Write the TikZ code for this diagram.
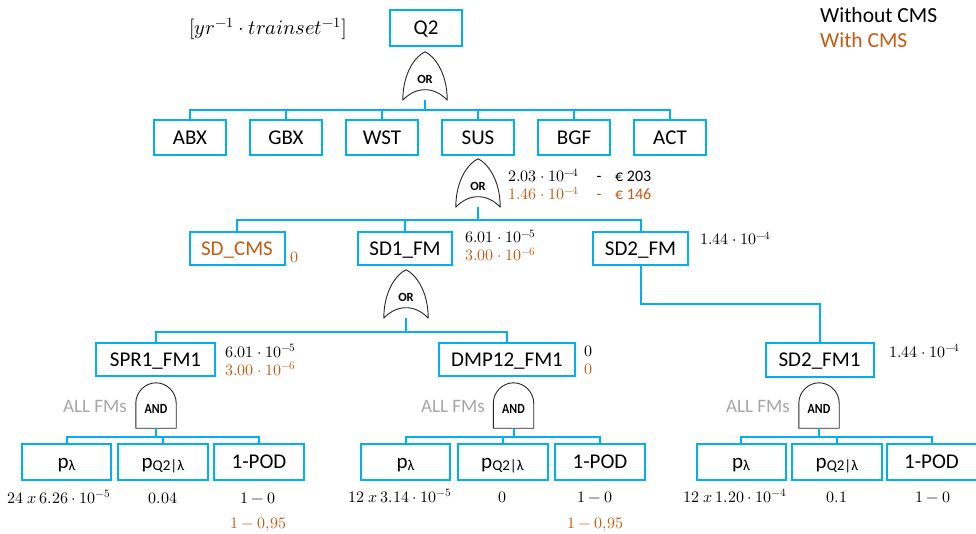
\documentclass[tikz,border=0pt]{standalone}
\usepackage{graphicx}
\usepackage{fontspec}
\usepackage{unicode-math}
\setmainfont{Carlito}
\setmathfont{Latin Modern Math}
\usetikzlibrary{calc}

\definecolor{boxblue}{HTML}{00B0F0}
\definecolor{cmsorange}{HTML}{C55A11}
\definecolor{fmgray}{HTML}{A6A6A6}

% subscript inside the basic-event boxes
\newcommand{\lowsub}[1]{\raisebox{-2pt}{\fontsize{15}{15}\selectfont #1}}

% OR gate outline drawn around a gate node (canvas offsets, up is positive)
\newcommand{\drawor}[1]{%
  \draw[gateline] (#1.south west)
    .. controls ($(#1.south west)+(0pt,28pt)$) and ($(#1.north)+(-9pt,-4pt)$) .. (#1.north)
    .. controls ($(#1.north)+(9pt,-4pt)$) and ($(#1.south east)+(0pt,28pt)$) .. (#1.south east)
    .. controls ($(#1.south east)+(-13pt,14pt)$) and ($(#1.south west)+(13pt,14pt)$) .. cycle;}

% AND gate outline: straight sides, round top
\newcommand{\drawand}[1]{%
  \draw[gateline] (#1.south west) -- ($(#1.south west)+(0pt,25pt)$)
    .. controls ($(#1.south west)+(0pt,36pt)$) and ($(#1.north)+(-11pt,0pt)$) .. (#1.north)
    .. controls ($(#1.north)+(11pt,0pt)$) and ($(#1.south east)+(0pt,36pt)$) .. ($(#1.south east)+(0pt,25pt)$)
    -- (#1.south east) -- cycle;}

\tikzset{
  event/.style={draw=boxblue, line width=2pt, fill=white, inner sep=0pt,
    minimum height=34pt, text height=13.5pt, text depth=0pt,
    font=\fontsize{21}{24}\selectfont},
  basic/.style={event, minimum width=89pt, minimum height=36pt},
  link/.style={draw=boxblue, line width=2pt},
  orgate/.style={minimum width=44pt, minimum height=48pt, inner sep=0pt,
    text height=15.5pt, text depth=0pt, font=\fontsize{12.5}{12.5}\selectfont\bfseries},
  andgate/.style={minimum width=40pt, minimum height=45pt, inner sep=0pt,
    text height=16pt, text depth=0pt, font=\fontsize{14}{14}\selectfont\bfseries},
  gateline/.style={draw=black!85, line width=0.9pt, line join=round},
  val/.style={font=\fontsize{16}{19}\selectfont, inner sep=0pt, anchor=base west},
  cval/.style={val, text=cmsorange},
  lowval/.style={font=\fontsize{16}{19}\selectfont, inner sep=0pt, anchor=base},
  clowval/.style={lowval, text=cmsorange},
  fmnote/.style={font=\fontsize{19}{21}\selectfont, text=fmgray, inner sep=0pt, anchor=base east},
  legend/.style={font=\fontsize{21.5}{24}\selectfont, inner sep=0pt, anchor=base west},
  cost/.style={font=\fontsize{16}{18}\selectfont, inner sep=0pt, anchor=base west},
}

\begin{document}
\begin{tikzpicture}[x=1pt, y=-1pt]
\useasboundingbox (0,0) rectangle (976,534);

% units and legend
\node[font=\fontsize{20.5}{23}\selectfont, inner sep=0pt, anchor=base] (units) at (268,35) {$[yr^{-1}\cdot trainset^{-1}]$};
\node[legend] (legA) at (820,23) {Without CMS};
\node[legend, text=cmsorange] (legB) at (820,48) {With CMS};

% top event
\node[event, minimum width=72pt, minimum height=36pt] (Q2) at (426,28) {Q2};
\node[orgate] (g0) at (425,76) {OR};
\drawor{g0}

% subsystems
\foreach \n/\x in {ABX/190, GBX/286, WST/382, SUS/478, BGF/574, ACT/670}
  \node[event, minimum width=72pt, minimum height=35pt] (\n) at (\x,137.5) {\n};
\coordinate (bus0) at (426,110);
\draw[link] (g0.south) -- (g0.south |- bus0);
\draw[link] (ABX.north) |- (ACT.north |- bus0) -- (ACT.north);
\foreach \n in {GBX, WST, SUS, BGF}
  \draw[link] (\n.north) -- (\n.north |- bus0);

% SUS branch
\node[orgate] (g1) at (478,183) {OR};
\drawor{g1}
\node[event, minimum width=95pt, minimum height=33pt, text=cmsorange] (SDCMS) at (237,249) {SD\_CMS};
\node[event, minimum width=94pt, minimum height=33pt] (SD1FM) at (405,249) {SD1\_FM};
\node[event, minimum width=95pt, minimum height=33pt] (SD2FM) at (640.5,249) {SD2\_FM};
\coordinate (bus1) at (478,220);
\draw[link] (g1.south) -- (g1.south |- bus1);
\draw[link] (SDCMS.north) |- (SD2FM.north |- bus1) -- (SD2FM.north);
\draw[link] (SD1FM.north) -- (SD1FM.north |- bus1);

\node[val] (qsus) at (508,182) {$2.03\cdot10^{-4}$};
\node[cost, anchor=base] (dsus) at (599,182) {-};
\node[cost] (esus) at (615,182) {€ 203};
\node[cval] (qsusc) at (508,200) {$1.46\cdot10^{-4}$};
\node[cost, anchor=base, text=cmsorange] (dsusc) at (599,200) {-};
\node[cost, text=cmsorange] (esusc) at (615,200) {€ 146};
\node[cval] (qcms) at (290,263) {$0$};
\node[val] (qsd1) at (465,243) {$6.01\cdot10^{-5}$};
\node[cval] (qsd1c) at (465,261) {$3.00\cdot10^{-6}$};
\node[val] (qsd2) at (700,245) {$1.44\cdot10^{-4}$};

% failure modes
\node[orgate] (g2) at (406,294) {OR};
\drawor{g2}
\node[event, minimum width=119pt, minimum height=33pt] (SPR) at (155.5,359.5) {SPR1\_FM1};
\node[event, minimum width=136pt, minimum height=33pt] (DMP) at (507,359.5) {DMP12\_FM1};
\node[event, minimum width=108pt, minimum height=34pt] (SD2FM1) at (819.5,360) {SD2\_FM1};
\coordinate (bus2) at (406,332);
\draw[link] (g2.south) -- (g2.south |- bus2);
\draw[link] (SPR.north) |- (DMP.north |- bus2) -- (DMP.north);
\coordinate (bend) at (641,304);
\draw[link] (SD2FM.south) -- (SD2FM.south |- bend) -| (SD2FM1.north);

\node[val] (qspr) at (225,357) {$6.01\cdot10^{-5}$};
\node[cval] (qsprc) at (225,375) {$3.00\cdot10^{-6}$};
\node[val] (qdmp) at (584,356) {$0$};
\node[cval] (qdmpc) at (584,374) {$0$};
\node[val] (qsd2fm) at (889,357) {$1.44\cdot10^{-4}$};

% AND gates with their basic events
\foreach \i/\gx/\la/\lb/\lc/\nx in {1/156/66.5/163/259/127, 2/513.5/405.5/502.5/600/485, 3/819/741/837/931.5/790} {
  \node[andgate] (a\i) at (\gx,405.5) {\scalebox{0.85}[1]{AND}};
  \drawand{a\i}
  \node[fmnote] (fm\i) at (\nx,412.7) {ALL FMs};
  \node[basic] (pl\i) at (\la,462) {p\lowsub{λ}};
  \node[basic, minimum width=90pt] (pq\i) at (\lb,462) {p\lowsub{Q2|λ}};
  \node[basic, minimum width=90pt] (pod\i) at (\lc,462) {1-POD};
  \coordinate (bus3\i) at (\gx,437);
  \draw[link] (a\i.south) -- (a\i.south |- bus3\i);
  \draw[link] (pl\i.north) |- (pod\i.north |- bus3\i) -- (pod\i.north);
  \draw[link] (pq\i.north) -- (pq\i.north |- bus3\i);
}

% basic event values
\node[lowval] (v1a) at (59,503) {$24\ x\ 6.26\cdot10^{-5}$};
\node[lowval] (v1b) at (163,503) {$0.04$};
\node[lowval] (v1c) at (258,503) {$1-0$};
\node[clowval] (v1d) at (258,528) {$1-0{,}95$};
\node[lowval] (v2a) at (400,502) {$12\ x\ 3.14\cdot10^{-5}$};
\node[lowval] (v2b) at (502,502) {$0$};
\node[lowval] (v2c) at (595,502) {$1-0$};
\node[clowval] (v2d) at (595,528) {$1-0{,}95$};
\node[lowval] (v3a) at (735,502) {$12\ x\ 1.20\cdot10^{-4}$};
\node[lowval] (v3b) at (837,502) {$0.1$};
\node[lowval] (v3c) at (933,502) {$1-0$};
\end{tikzpicture}
\end{document}
